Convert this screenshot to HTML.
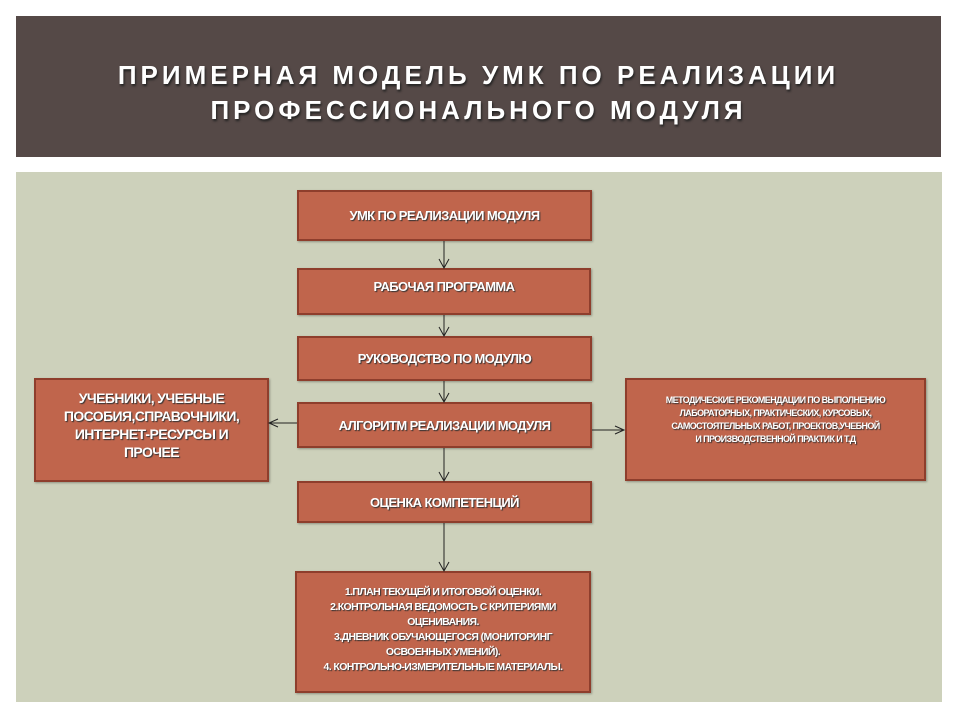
<!DOCTYPE html>
<html><head><meta charset="utf-8"><style>
body{margin:0;width:960px;height:720px;background:#fff;position:relative;overflow:hidden;font-family:"Liberation Sans",sans-serif}
.hdr{position:absolute;left:16px;top:16px;width:925px;height:141px;background:#554947}
.title{position:absolute;left:16px;top:58px;width:925px;text-align:center;color:#fff;font-weight:bold;font-size:26px;letter-spacing:4px;line-height:35px;text-shadow:1px 2px 2px #222}
.panel{position:absolute;left:16px;top:172px;width:926px;height:530px;background:#cdd1bb}
.b{position:absolute;background:#c0654c;border:2px solid #8e3e2c;box-sizing:border-box;display:flex;align-items:center;justify-content:center;text-align:center;color:#fff;font-family:"Liberation Sans Narrow","Liberation Sans",sans-serif;font-weight:bold;text-shadow:1px 1px 1px #333;letter-spacing:-0.6px;box-shadow:1px 1px 2px rgba(0,0,0,.3)}
.s{font-size:13px}
svg{position:absolute;left:0;top:0}
</style></head><body>
<div class="hdr"></div>
<div class="title">ПРИМЕРНАЯ МОДЕЛЬ УМК ПО РЕАЛИЗАЦИИ<br>ПРОФЕССИОНАЛЬНОГО МОДУЛЯ</div>
<div class="panel"></div>
<div class="b s" style="left:297px;top:190px;width:295px;height:51px">УМК ПО РЕАЛИЗАЦИИ МОДУЛЯ</div>
<div class="b s" style="left:297px;top:268px;width:294px;height:47px;padding-bottom:10px">РАБОЧАЯ ПРОГРАММА</div>
<div class="b s" style="left:297px;top:336px;width:295px;height:45px">РУКОВОДСТВО ПО МОДУЛЮ</div>
<div class="b s" style="left:297px;top:402px;width:295px;height:46px">АЛГОРИТМ РЕАЛИЗАЦИИ МОДУЛЯ</div>
<div class="b s" style="left:297px;top:481px;width:295px;height:42px">ОЦЕНКА КОМПЕТЕНЦИЙ</div>
<div class="b" style="left:295px;top:571px;width:296px;height:122px;font-size:10.5px;line-height:15px;align-items:flex-start;padding-top:12px">1.ПЛАН ТЕКУЩЕЙ И ИТОГОВОЙ ОЦЕНКИ.<br>2.КОНТРОЛЬНАЯ ВЕДОМОСТЬ С КРИТЕРИЯМИ<br>ОЦЕНИВАНИЯ.<br>3.ДНЕВНИК ОБУЧАЮЩЕГОСЯ (МОНИТОРИНГ<br>ОСВОЕННЫХ УМЕНИЙ).<br>4. КОНТРОЛЬНО-ИЗМЕРИТЕЛЬНЫЕ МАТЕРИАЛЫ.</div>
<div class="b" style="left:34px;top:378px;width:235px;height:104px;font-size:14px;line-height:18px;padding-bottom:10px">УЧЕБНИКИ, УЧЕБНЫЕ<br>ПОСОБИЯ,СПРАВОЧНИКИ,<br>ИНТЕРНЕТ-РЕСУРСЫ И<br>ПРОЧЕЕ</div>
<div class="b" style="left:625px;top:378px;width:301px;height:103px;font-size:9px;line-height:13px;align-items:flex-start;padding-top:14px">МЕТОДИЧЕСКИЕ РЕКОМЕНДАЦИИ ПО ВЫПОЛНЕНИЮ<br>ЛАБОРАТОРНЫХ, ПРАКТИЧЕСКИХ, КУРСОВЫХ,<br>САМОСТОЯТЕЛЬНЫХ РАБОТ, ПРОЕКТОВ,УЧЕБНОЙ<br>И ПРОИЗВОДСТВЕННОЙ ПРАКТИК И Т.Д</div>
<svg width="960" height="720">
<g stroke="#222" stroke-width="1" fill="none">
<line x1="444" y1="241" x2="444" y2="268"/><polyline points="439,259 444,268 449,259"/>
<line x1="444" y1="315" x2="444" y2="336"/><polyline points="439,327 444,336 449,327"/>
<line x1="444" y1="381" x2="444" y2="402"/><polyline points="439,393 444,402 449,393"/>
<line x1="444" y1="448" x2="444" y2="481"/><polyline points="439,472 444,481 449,472"/>
<line x1="444" y1="523" x2="444" y2="571"/><polyline points="439,562 444,571 449,562"/>
<line x1="297" y1="423" x2="269" y2="423"/><polyline points="278,419 269,423 278,427"/>
<line x1="592" y1="430" x2="624" y2="430"/><polyline points="615,426 624,430 615,434"/>
</g></svg>
</body></html>
